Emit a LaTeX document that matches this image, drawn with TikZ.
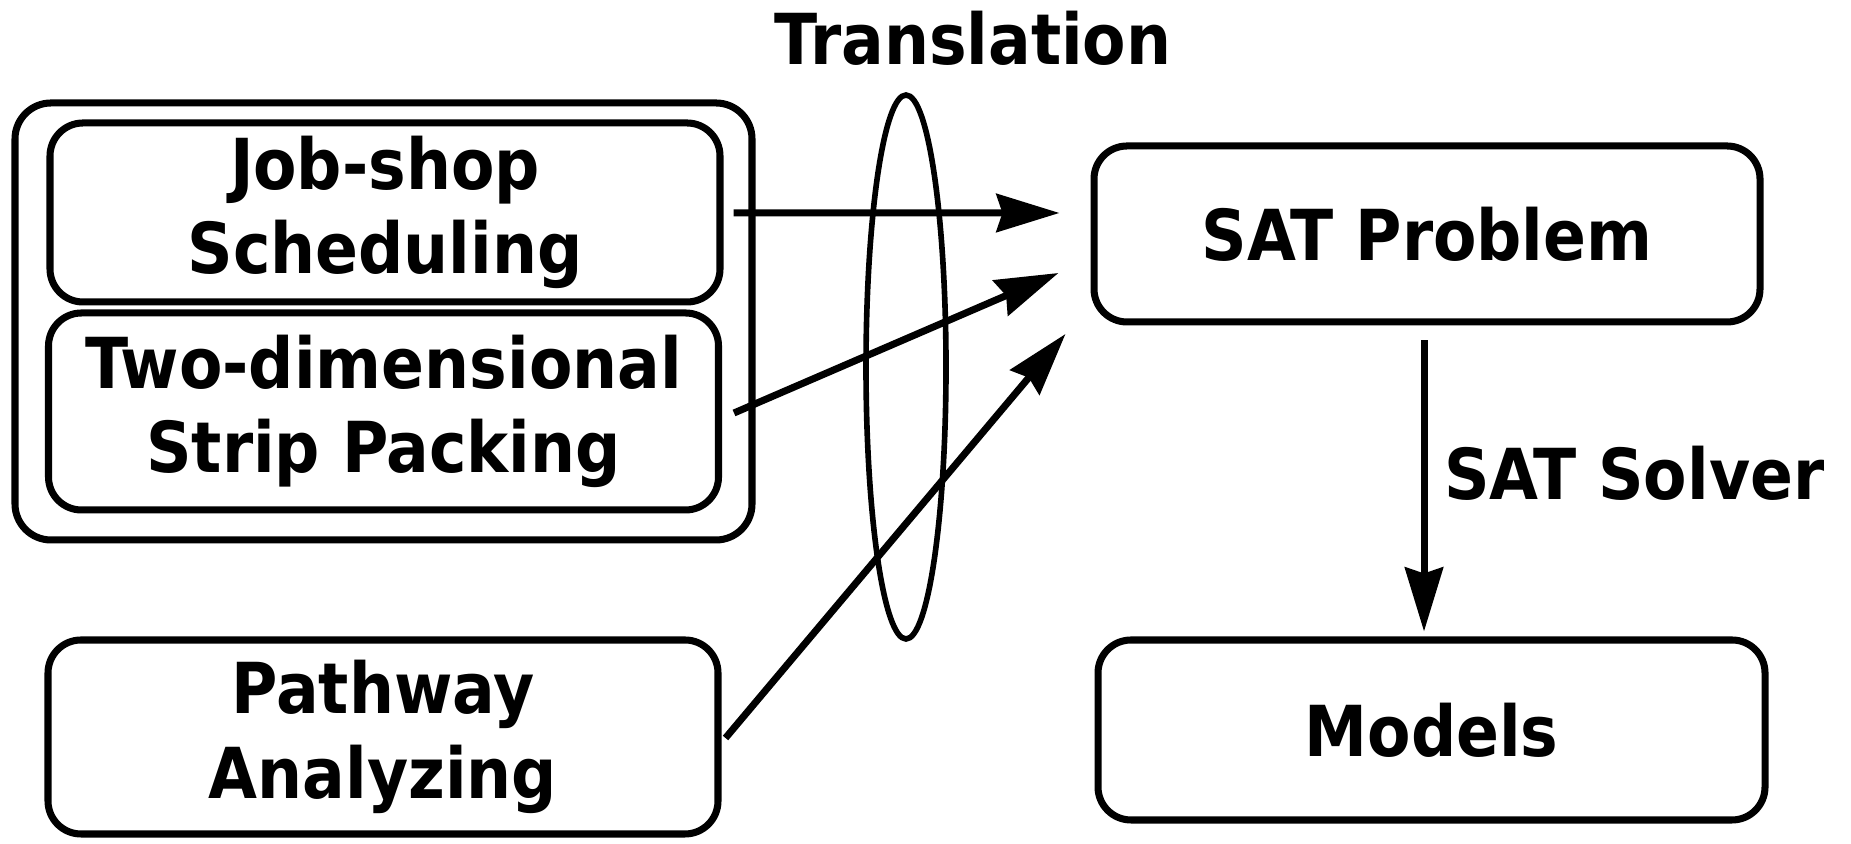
\documentclass[tikz,border=0pt]{standalone}
\usepackage{fontspec}
\setmainfont{DejaVu Sans Condensed}[BoldFont={DejaVu Sans Condensed Bold}]
\usetikzlibrary{arrows.meta,positioning}

\begin{document}
\begin{tikzpicture}[
            every node/.style = {font = \bfseries\fontsize{20pt}{24pt}\selectfont, align = center},
            task/.style = {draw, line width = 2pt, rounded corners = 3.3mm, minimum width = 6.7cm, minimum height = 1.8cm},
            group/.style = {draw, line width = 2pt, rounded corners = 3.6mm, minimum width = 7.37cm, minimum height = 4.37cm},
            conn/.style = {line width = 2pt, -{Stealth[length = 6.3mm, width = 3.8mm, inset = 0.6mm]}}
            ]
            \useasboundingbox (0,0) rectangle (18.51,8.44);
            \node[group] (outer) at (3.835,5.225) {};
            \node[task, minimum height = 1.79cm] (job) at (3.85,6.315) {Job-shop\\Scheduling};
            \node[task, minimum height = 1.97cm] (strip) at (3.835,4.325) {Two-dimensional\\Strip Packing};
            \node[task, minimum height = 1.94cm] (path) at (3.83,1.07) {Pathway\\Analyzing};
            \node[task, minimum width = 6.66cm, minimum height = 1.76cm] (sat) at (14.27,6.10) {SAT Problem};
            \node[task, minimum width = 6.67cm, minimum height = 1.80cm] (models) at (14.315,1.14) {Models};
            \draw[line width = 1.6pt] (9.06,4.77) ellipse [x radius = 0.40, y radius = 2.72];
            \node[anchor = base] (trans) at (9.73,7.79) {Translation};
            % arrow ends left of the SAT box
            \coordinate (tipA) at ([xshift = -3.1mm, yshift = 2.1mm]sat.west);
            \coordinate (tipB) at ([xshift = -3.2mm, yshift = -3.9mm]sat.west);
            \coordinate (tipC) at ([xshift = -2.5mm, yshift = -10.0mm]sat.west);
            \draw[conn] ([xshift = 1.0mm, yshift = -0.05mm]job.east) -- (tipA);
            \draw[conn] ([xshift = 1.2mm, yshift = -0.15mm]strip.east) -- (tipB);
            \draw[conn] ([xshift = 0.4mm, yshift = -0.1mm]path.east) -- (tipC);
            \draw[line width = 2pt, -{Stealth[length = 6.4mm, width = 3.8mm, inset = 0.6mm]}, shorten < = 1.5mm, shorten > = 0.5mm] ([xshift = -0.3mm]sat.south) -- ([xshift = -0.3mm]sat.south |- models.north)
                  node[midway, right = 0.5mm, yshift = 0.8mm] (solver) {SAT Solver};
          \end{tikzpicture}
\end{document}
